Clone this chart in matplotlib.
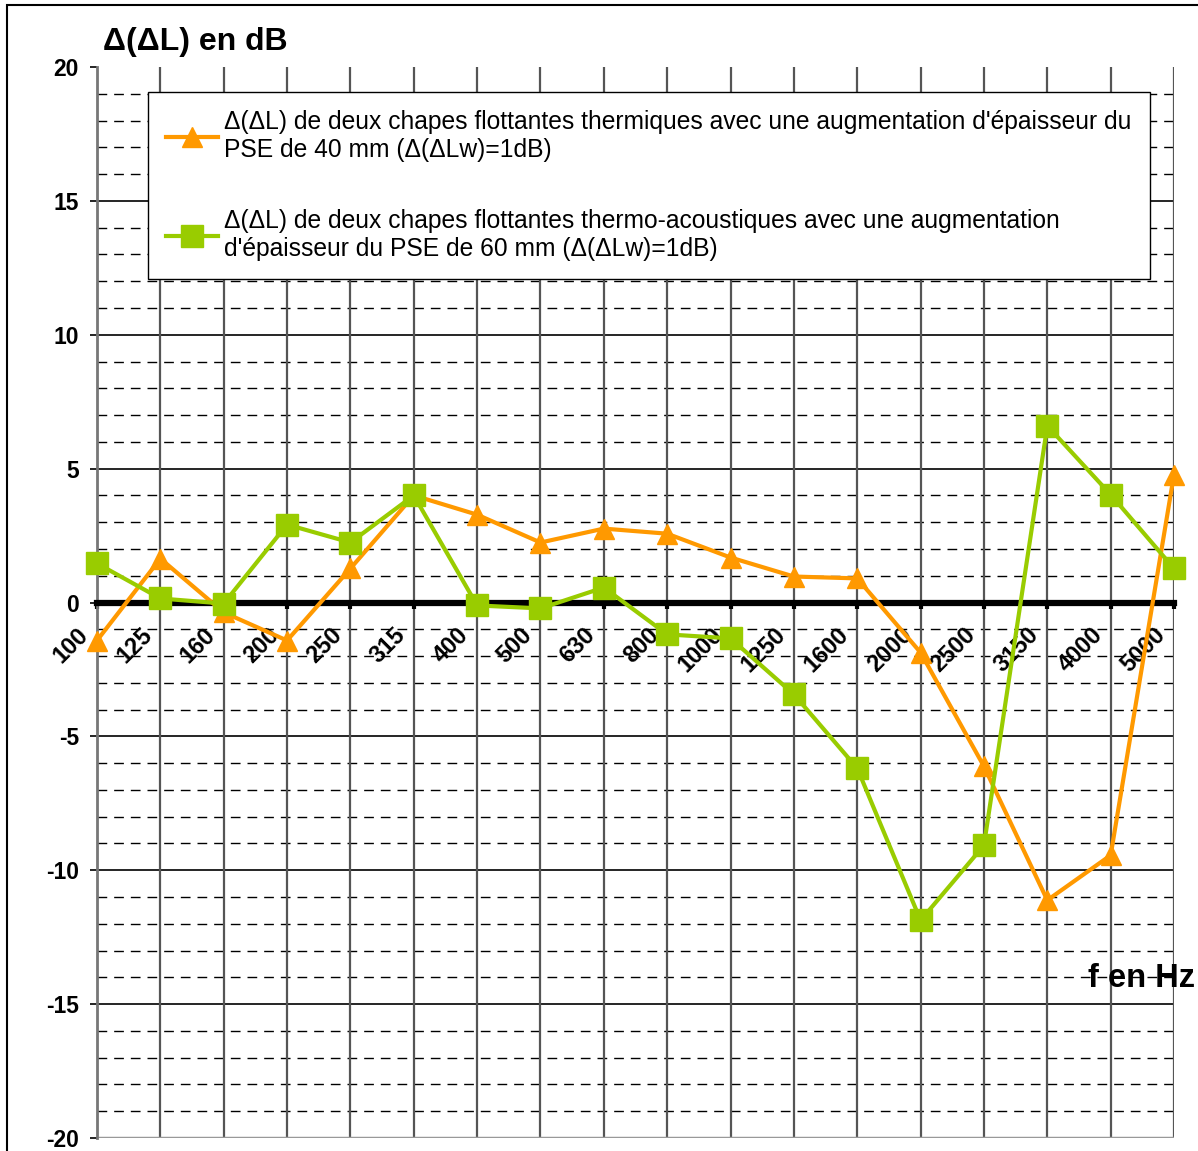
import matplotlib
matplotlib.use('Agg')
from matplotlib import pyplot as plt
from matplotlib.patches import Rectangle
from matplotlib.transforms import ScaledTranslation

plt.rcParams['font.family'] = ['Liberation Sans', 'DejaVu Sans']

freqs = ['100', '125', '160', '200', '250', '315', '400', '500', '630', '800',
         '1000', '1250', '1600', '2000', '2500', '3150', '4000', '5000']
thermique = [-1.42, 1.64, -0.37, -1.42, 1.27, 4.0, 3.28, 2.24, 2.76, 2.57,
             1.68, 0.97, 0.9, -1.87, -6.12, -11.12, -9.44, 4.78]
thermo_acoustique = [1.46, 0.15, -0.04, 2.91, 2.24, 4.0, -0.11, -0.22, 0.56, -1.19,
                     -1.34, -3.43, -6.19, -11.87, -9.07, 6.6, 4.03, 1.27]

label_th = ("\u0394(\u0394L) de deux chapes flottantes thermiques avec une augmentation "
            "d'\u00e9paisseur du\nPSE de 40 mm (\u0394(\u0394Lw)=1dB)")
label_ta = ("\u0394(\u0394L) de deux chapes flottantes thermo-acoustiques avec une augmentation\n"
            "d'\u00e9paisseur du PSE de 60 mm (\u0394(\u0394Lw)=1dB)")

W, H = 1198, 1151
fig = plt.figure(figsize=(W / 100, H / 100), dpi=100)
ax = fig.add_axes([97 / W, 1 - 1138 / H, (1174 - 97) / W, (1138 - 67) / H])

x = list(range(len(freqs)))

# grille : pointillés tous les 1 dB, traits pleins tous les 5 dB
for v in range(-19, 20):
    if v % 5 == 0:
        if v != 0:
            ax.axhline(v, color='black', lw=1.2, zorder=1)
    else:
        ax.axhline(v, color='black', lw=1.0, ls=(0, (7, 5)), zorder=1)
for xi in x[1:]:
    ax.axvline(xi, color='#555555', lw=1.6, zorder=1)
ax.axhline(-20, color='#999999', lw=2.5, zorder=1)

ax.plot(x, thermique, color='#FF9900', lw=3, marker='^', markersize=15,
        label=label_th, zorder=4, clip_on=False)
ax.plot(x, thermo_acoustique, color='#99CC00', lw=3, marker='s', markersize=16.5,
        label=label_ta, zorder=5, clip_on=False)

ax.set_xlim(0, 17)
ax.set_ylim(-20, 20)

for s in ['top', 'right']:
    ax.spines[s].set_visible(False)
ax.spines['left'].set_color('#777777')
ax.spines['left'].set_linewidth(2)
ax.spines['bottom'].set_position(('data', 0))
ax.spines['bottom'].set_linewidth(4.5)
ax.spines['bottom'].set_zorder(3)

ax.set_yticks(range(-20, 21, 5))
ax.set_yticklabels([str(v) for v in range(-20, 21, 5)], fontsize=16.5, fontweight='bold')
ax.tick_params(axis='y', length=5, width=1.2, pad=8)

ax.set_xticks(x)
ax.set_xticklabels(freqs, fontsize=17, fontweight='bold', rotation=45,
                   ha='right', va='top', rotation_mode='anchor')
ax.tick_params(axis='x', length=4, width=3, pad=11)
shift = ScaledTranslation(-20 / 100, 0, fig.dpi_scale_trans)
for lab in ax.get_xticklabels():
    lab.set_transform(lab.get_transform() + shift)

leg = ax.legend(loc='upper left', bbox_to_anchor=(148 / W, 1 - 92 / H),
                bbox_transform=fig.transFigure, fontsize=17.7, fancybox=False,
                framealpha=1, edgecolor='black', handlelength=2.1,
                handletextpad=0.25, labelspacing=1.9, borderpad=0.75,
                borderaxespad=0)
leg.get_frame().set_linewidth(1)
leg.set_zorder(6)

fig.text(103 / W, 1 - 50 / H, '\u0394(\u0394L) en dB', fontsize=23,
         fontweight='bold', va='baseline', ha='left')
fig.text(1195 / W, 1 - 987 / H, 'f en Hz', fontsize=23.5, fontweight='bold',
         va='baseline', ha='right')

fig.patches.append(Rectangle((7 / W, -0.05), 1.2, 1.05 - 5 / H, transform=fig.transFigure,
                             fill=False, edgecolor='black', lw=1.5))

fig.savefig('out.png', dpi=100)
